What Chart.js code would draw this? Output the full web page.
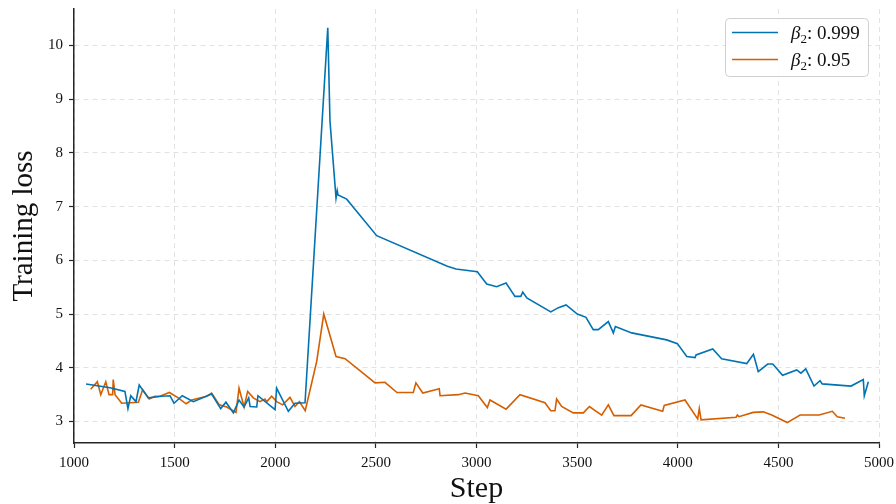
<!DOCTYPE html>
<html>
<head>
<meta charset="utf-8">
<script src="https://cdn.jsdelivr.net/npm/chart.js@4.4.1/dist/chart.umd.min.js"></script>
<style>
  html, body { margin: 0; padding: 0; background: #fff; }
  #wrap { width: 896px; height: 504px; position: relative; }
</style>
</head>
<body>
<div id="wrap"><canvas id="c" width="896" height="504"></canvas></div>
<script>
// ---- Data ----
const seriesLabels = ["0.999", "0.95"];
const blueSteps = [1060,1179,1253,1268,1282,1308,1324,1369,1436,1477,1497,1538,1593,1684,1729,1755,1792,1820,1845,1868,1875,1908,1914,1999,2007,2065,2098,2148,2261,2272,2302,2308,2312,2355,2504,2855,2898,3004,3051,3100,3147,3191,3220,3230,3250,3369,3407,3445,3501,3544,3580,3605,3655,3680,3690,3771,3945,3998,4045,4086,4091,4174,4218,4343,4376,4400,4447,4472,4521,4591,4612,4636,4677,4707,4718,4861,4922,4927,4947];
const blueLoss = [3.70,3.63,3.56,3.24,3.48,3.37,3.68,3.44,3.47,3.48,3.34,3.48,3.37,3.51,3.24,3.36,3.16,3.40,3.27,3.44,3.28,3.27,3.48,3.22,3.62,3.19,3.34,3.35,10.33,8.59,7.16,7.30,7.22,7.14,6.46,5.89,5.84,5.79,5.56,5.51,5.58,5.33,5.33,5.41,5.30,5.04,5.12,5.17,5.00,4.94,4.71,4.71,4.86,4.65,4.77,4.65,4.52,4.45,4.21,4.19,4.24,4.35,4.17,4.08,4.25,3.93,4.07,4.07,3.86,3.96,3.90,3.98,3.66,3.76,3.70,3.66,3.78,3.48,3.74];
const orangeSteps = [1083,1116,1133,1158,1174,1192,1195,1204,1237,1320,1341,1374,1402,1427,1474,1518,1557,1585,1659,1684,1722,1759,1805,1820,1845,1863,1891,1924,1949,1958,1982,2007,2037,2073,2098,2120,2149,2206,2241,2302,2347,2496,2545,2605,2686,2699,2733,2815,2819,2910,2943,3009,3054,3067,3147,3216,3340,3369,3390,3398,3423,3481,3531,3561,3622,3655,3683,3768,3817,3925,3933,4036,4099,4107,4116,4290,4296,4304,4375,4425,4467,4544,4608,4703,4768,4793,4831];
const orangeLoss = [3.60,3.74,3.50,3.74,3.50,3.50,3.78,3.50,3.34,3.36,3.59,3.42,3.47,3.47,3.54,3.44,3.33,3.40,3.47,3.53,3.31,3.27,3.17,3.62,3.27,3.56,3.44,3.37,3.42,3.37,3.47,3.37,3.31,3.45,3.28,3.37,3.20,4.12,5.00,4.21,4.17,3.72,3.73,3.54,3.54,3.72,3.53,3.61,3.48,3.50,3.53,3.48,3.26,3.40,3.23,3.50,3.35,3.20,3.20,3.42,3.28,3.16,3.16,3.28,3.12,3.31,3.11,3.11,3.31,3.19,3.30,3.40,3.05,3.24,3.03,3.08,3.12,3.09,3.17,3.18,3.12,2.98,3.12,3.12,3.19,3.09,3.06];
const xTicks = [1000,1500,2000,2500,3000,3500,4000,4500,5000];
const yTicks = [3,4,5,6,7,8,9,10];

const BLUE = '#0173B2';
const ORANGE = '#D55E00';
const SERIF = '"Liberation Serif", "Times New Roman", serif';
const AXIS = '#262626';

function pts(xs, ys) { return xs.map((x, i) => ({x: x, y: ys[i]})); }

const legendPlugin = {
  id: 'mplLegend',
  afterDraw(chart) {
    const ctx = chart.ctx;
    const x0 = 725.5, y0 = 18.5, w = 143, h = 58, r = 4;
    ctx.save();
    ctx.beginPath();
    ctx.moveTo(x0 + r, y0);
    ctx.arcTo(x0 + w, y0, x0 + w, y0 + h, r);
    ctx.arcTo(x0 + w, y0 + h, x0, y0 + h, r);
    ctx.arcTo(x0, y0 + h, x0, y0, r);
    ctx.arcTo(x0, y0, x0 + w, y0, r);
    ctx.closePath();
    ctx.fillStyle = 'rgba(255,255,255,0.85)';
    ctx.fill();
    ctx.strokeStyle = '#d0d0d0';
    ctx.lineWidth = 1;
    ctx.stroke();
    chart.data.datasets.forEach((ds, i) => {
      const yy = 32.5 + i * 27;
      ctx.beginPath();
      ctx.strokeStyle = ds.borderColor;
      ctx.lineWidth = 1.6;
      ctx.moveTo(732, yy);
      ctx.lineTo(778, yy);
      ctx.stroke();
      ctx.fillStyle = '#111';
      ctx.textBaseline = 'alphabetic';
      ctx.textAlign = 'left';
      let tx = 791;
      const base = yy + 6.5;
      ctx.font = 'italic 19px ' + SERIF;
      ctx.fillText('\u03B2', tx, base);
      tx += ctx.measureText('\u03B2').width;
      ctx.font = '13px ' + SERIF;
      ctx.fillText('2', tx, base + 4);
      tx += ctx.measureText('2').width;
      ctx.font = '19px ' + SERIF;
      ctx.fillText(': ' + seriesLabels[i], tx, base);
    });
    ctx.restore();
  }
};

new Chart(document.getElementById('c'), {
  type: 'line',
  data: {
    datasets: [
      { label: '\u03B2\u2082: ' + seriesLabels[0], data: pts(blueSteps, blueLoss), borderColor: BLUE, backgroundColor: BLUE, borderWidth: 1.6, pointRadius: 0, tension: 0, fill: false },
      { label: '\u03B2\u2082: ' + seriesLabels[1], data: pts(orangeSteps, orangeLoss), borderColor: ORANGE, backgroundColor: ORANGE, borderWidth: 1.6, pointRadius: 0, tension: 0, fill: false }
    ]
  },
  options: {
    responsive: false,
    animation: false,
    devicePixelRatio: 1,
    layout: { padding: { top: 9, right: 17, bottom: 0, left: 0 } },
    plugins: { legend: { display: false }, tooltip: { enabled: false } },
    scales: {
      x: {
        type: 'linear',
        min: 1000, max: 5000,
        afterBuildTicks: s => { s.ticks = xTicks.map(v => ({value: v})); },
        afterFit: s => { s.height = 61; s.paddingLeft = 0; s.paddingRight = 0; },
        grid: { color: '#e2e2e2', lineWidth: 1, drawTicks: true, tickLength: 5, tickColor: AXIS, tickWidth: 1.2 },
        border: { display: true, color: AXIS, width: 1.5, dash: [5, 4] },
        ticks: { color: '#111', font: { family: SERIF, size: 15 }, padding: 6, maxRotation: 0, callback: v => String(v) },
        title: { display: true, text: 'Step', color: '#111', font: { family: SERIF, size: 30, lineHeight: 1.0 }, padding: { top: 0, bottom: 0 } }
      },
      y: {
        type: 'linear',
        min: 2.6, max: 10.68,
        afterBuildTicks: s => { s.ticks = yTicks.map(v => ({value: v})); },
        afterFit: s => { s.width = 74; s.paddingTop = 0; s.paddingBottom = 0; },
        grid: { color: '#e2e2e2', lineWidth: 1, drawTicks: true, tickLength: 5, tickColor: AXIS, tickWidth: 1.2 },
        border: { display: true, color: AXIS, width: 1.5, dash: [5, 4] },
        ticks: { color: '#111', font: { family: SERIF, size: 15 }, padding: 6, callback: v => String(v) },
        title: { display: true, text: 'Training loss', color: '#111', font: { family: SERIF, size: 29 }, padding: { top: 7, bottom: 0 } }
      }
    }
  },
  plugins: [legendPlugin]
});
</script>
</body>
</html>
